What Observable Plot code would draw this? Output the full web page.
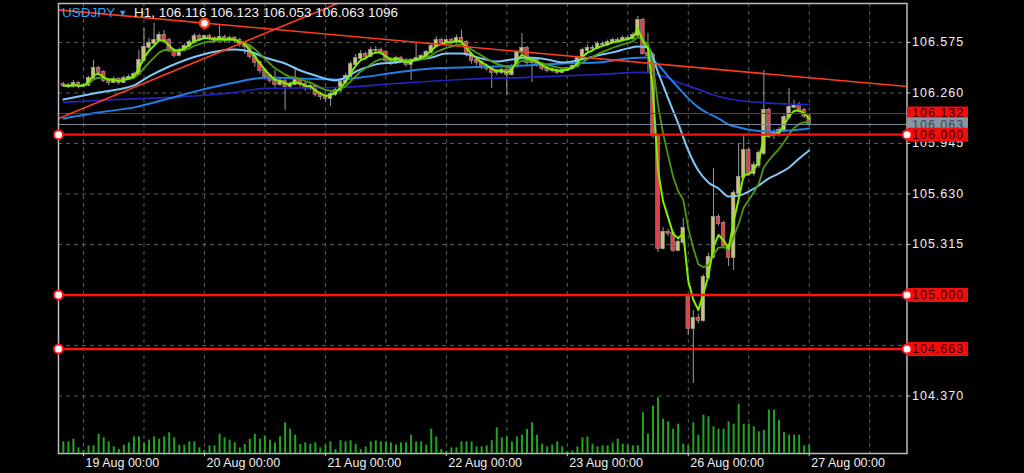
<!DOCTYPE html>
<html>
<head>
<meta charset="utf-8">
<script src="https://cdn.jsdelivr.net/npm/d3@7"></script>
<script src="https://cdn.jsdelivr.net/npm/@observablehq/plot@0.6"></script>
<style>
  html, body { margin: 0; padding: 0; background: #000; }
  #wrap { position: relative; width: 1024px; height: 473px; overflow: hidden; background: #000; }
  #wrap svg { position: absolute; left: 0; top: 0; }
  #title { position: absolute; left: 62px; top: 5px; font: 13.5px "Liberation Sans", Arial, sans-serif; line-height: 16px; color: #f2f2f2; white-space: nowrap; }
  #title .sym { color: #33a2f5; }
  #title .tri { color: #33a2f5; font-size: 9px; position: relative; top: -1px; margin: 0 3px 0 3px; }
</style>
</head>
<body>
<div id="wrap">
  <div id="title"><span class="sym">USDJPY</span><span class="tri">▼</span> H1, 106.116 106.123 106.053 106.063 1096</div>
</div>
<script>
// ---------- DATA ----------
// hourly bar index: 0 = 19 Aug 00:00, weekend skipped (26 Aug 00:00 = 120, 27 Aug 00:00 = 144)
const firstBar = -4;
const open = [
  106.313,106.307,106.300,106.319,106.300,106.307,106.350,106.413,106.388,106.338,
  106.325,106.344,106.325,106.350,106.357,106.375,106.463,106.544,106.569,106.587,
  106.619,106.587,106.525,106.494,106.525,106.550,106.575,106.612,106.600,106.612,
  106.600,106.587,106.606,106.587,106.600,106.587,106.563,106.550,106.488,106.450,
  106.400,106.363,106.338,106.313,106.332,106.300,106.313,106.338,106.313,106.288,
  106.300,106.251,106.238,106.226,106.251,106.276,106.325,106.363,106.438,106.475,
  106.500,106.488,106.525,106.525,106.513,106.463,106.450,106.475,106.463,106.438,
  106.463,106.475,106.488,106.513,106.550,106.587,106.575,106.587,106.575,106.600,
  106.575,106.500,106.463,106.450,106.425,106.413,106.388,106.388,106.400,106.375,
  106.425,106.513,106.538,106.450,106.463,106.438,106.413,106.400,106.400,106.388,
  106.400,106.413,106.425,106.475,106.525,106.538,106.538,106.563,106.563,106.575,
  106.587,106.587,106.600,106.600,106.619,106.712,106.506,106.494,105.995,105.290,
  105.390,105.384,105.277,105.328,104.984,104.791,104.853,104.841,105.109,105.234,
  105.483,105.446,105.309,105.234,105.633,105.733,105.901,105.758,105.808,105.883,
  106.151,105.995,106.007,106.026,106.107,106.170,106.182,106.151,106.116
];
const high = [
  106.325,106.320,106.338,106.330,106.318,106.363,106.463,106.425,106.398,106.350,
  106.360,106.355,106.365,106.375,106.390,106.525,106.663,106.600,106.694,106.640,
  106.650,106.600,106.535,106.540,106.565,106.590,106.630,106.625,106.620,106.625,
  106.610,106.681,106.620,106.615,106.612,106.600,106.575,106.560,106.500,106.460,
  106.410,106.375,106.400,106.350,106.345,106.330,106.420,106.350,106.325,106.320,
  106.310,106.265,106.250,106.265,106.290,106.340,106.380,106.455,106.500,106.525,
  106.515,106.545,106.550,106.540,106.525,106.480,106.490,106.488,106.475,106.475,
  106.569,106.500,106.525,106.565,106.610,106.600,106.595,106.600,106.620,106.650,
  106.585,106.510,106.475,106.460,106.440,106.425,106.405,106.415,106.410,106.440,
  106.525,106.631,106.550,106.480,106.475,106.450,106.425,106.415,106.410,106.412,
  106.420,106.435,106.490,106.540,106.560,106.555,106.580,106.580,106.590,106.600,
  106.605,106.615,106.615,106.635,106.737,106.725,106.631,106.510,106.000,105.420,
  105.410,105.395,105.345,105.478,104.997,104.903,104.880,105.125,105.260,105.789,
  105.500,105.460,105.320,105.650,105.945,105.995,105.915,105.830,105.900,106.400,
  106.165,106.030,106.045,106.125,106.288,106.215,106.200,106.165,106.123
];
const low = [
  106.295,106.288,106.290,106.285,106.293,106.300,106.345,106.375,106.325,106.305,
  106.318,106.310,106.318,106.340,106.350,106.370,106.455,106.530,106.560,106.580,
  106.575,106.510,106.480,106.485,106.515,106.540,106.565,106.590,106.595,106.585,
  106.570,106.575,106.570,106.575,106.570,106.545,106.500,106.470,106.420,106.380,
  106.340,106.320,106.290,106.300,106.151,106.285,106.305,106.295,106.270,106.275,
  106.235,106.215,106.205,106.176,106.240,106.265,106.315,106.355,106.430,106.465,
  106.475,106.480,106.505,106.495,106.445,106.430,106.440,106.445,106.420,106.338,
  106.455,106.465,106.480,106.505,106.540,106.560,106.570,106.560,106.565,106.560,
  106.485,106.440,106.430,106.405,106.395,106.288,106.370,106.375,106.244,106.365,
  106.415,106.500,106.430,106.325,106.420,106.395,106.385,106.385,106.375,106.380,
  106.395,106.405,106.415,106.465,106.515,106.520,106.530,106.545,106.550,106.565,
  106.570,106.575,106.585,106.590,106.610,106.495,106.388,105.976,105.265,105.280,
  105.365,105.265,105.270,105.320,104.748,104.448,104.820,104.830,105.100,105.225,
  105.430,105.290,105.178,105.153,105.620,105.720,105.740,105.740,105.790,105.870,
  105.975,105.970,105.985,106.010,106.095,106.160,106.135,106.100,106.053
];
const close = [
  106.307,106.300,106.319,106.300,106.307,106.350,106.413,106.388,106.338,106.325,
  106.344,106.325,106.350,106.357,106.375,106.463,106.544,106.569,106.587,106.619,
  106.587,106.525,106.494,106.525,106.550,106.575,106.612,106.600,106.612,106.600,
  106.587,106.606,106.587,106.600,106.587,106.563,106.550,106.488,106.450,106.400,
  106.363,106.338,106.313,106.332,106.300,106.313,106.338,106.313,106.288,106.300,
  106.251,106.238,106.226,106.251,106.276,106.325,106.363,106.438,106.475,106.500,
  106.488,106.525,106.525,106.513,106.463,106.450,106.475,106.463,106.438,106.463,
  106.475,106.488,106.513,106.550,106.587,106.575,106.587,106.575,106.600,106.575,
  106.500,106.463,106.450,106.425,106.413,106.388,106.388,106.400,106.375,106.425,
  106.513,106.538,106.450,106.463,106.438,106.413,106.400,106.400,106.388,106.400,
  106.413,106.425,106.475,106.525,106.538,106.538,106.563,106.563,106.575,106.587,
  106.587,106.600,106.600,106.619,106.712,106.506,106.494,105.995,105.290,105.390,
  105.384,105.277,105.328,105.415,104.791,104.853,104.841,105.109,105.234,105.483,
  105.446,105.309,105.234,105.633,105.733,105.901,105.758,105.808,105.883,106.151,
  105.995,106.007,106.026,106.107,106.170,106.182,106.151,106.116,106.063
];
const volume = [
  1540,1540,1890,750,400,1020,1020,2550,2070,1540,
  880,530,1100,1410,2200,2200,1410,1760,2200,1890,
  2200,2730,2070,1100,1100,1540,1540,750,400,1020,
  1020,2550,2070,1760,1410,750,1190,1890,2550,1890,
  2280,1760,1410,2200,4050,3210,2420,1190,1410,1230,
  1410,750,1100,1540,530,1680,1540,1680,1230,530,
  880,1540,1680,1540,1540,1410,1100,1410,1410,2420,
  1540,1540,1100,3210,2200,530,260,750,750,1540,
  1540,1540,880,880,1020,1680,3390,2070,2200,1540,
  2200,2420,3170,4050,2420,1230,880,1100,1540,880,
  260,360,880,2070,2200,1230,880,1020,1020,1410,
  1890,1230,1100,1020,1020,5370,2550,6240,7350,4530,
  4180,3210,3870,1230,1060,4050,2420,5060,4840,3520,
  3210,3210,4180,3870,6510,3870,3870,3520,2860,3080,
  5720,5720,4400,2730,2420,2420,2420,1020,1096
];

// moving averages (bar index, price)
const maLightIdx = [-4,3,10,13,17,23,30,33,36,40,43,46,50,55,59,62,65,69,72,75,79,82,85,88,92,95,98,102,105,108,110,112,114,116,118,120,122,124,126,128,130,132,134,136,138,140,142,144];
const maLightVal = [106.219,106.263,106.307,106.363,106.425,106.494,106.531,106.519,106.481,106.444,106.400,106.369,106.338,106.407,106.444,106.450,106.463,106.481,106.506,106.506,106.475,106.456,106.469,106.481,106.469,106.450,106.463,106.494,106.513,106.538,106.550,106.544,106.388,106.226,106.070,105.901,105.776,105.702,105.664,105.614,105.620,105.645,105.683,105.727,105.758,105.795,105.851,105.901];
const maMidIdx = [-4,3,10,17,23,30,33,37,43,50,55,62,69,75,82,88,95,102,108,112,114,116,118,120,122,124,126,128,130,133,137,140,144];
const maMidVal = [106.101,106.138,106.170,106.226,106.276,106.325,106.344,106.357,106.350,106.344,106.357,106.388,106.413,106.419,106.425,106.432,106.444,106.450,106.475,106.481,106.438,106.363,106.294,106.226,106.170,106.132,106.101,106.063,106.045,106.026,106.020,106.026,106.039];
const maSlowIdx = [-4,3,17,30,36,50,62,75,88,102,111,114,118,122,126,130,134,138,144];
const maSlowVal = [106.201,106.213,106.232,106.263,106.288,106.294,106.319,106.344,106.357,106.375,106.388,106.375,106.325,106.282,106.238,106.213,106.201,106.194,106.188];

// drawn objects
const trendDown = [{i: -4.96, p: 106.778}, {i: 163.4, p: 106.300}];
const trendUp = [{i: -4.96, p: 106.101}, {i: 60, p: 106.942}];
const trendAnchor = [{i: 24, p: 106.695}];
const levelPrices = [106.000, 105.000, 104.663];
const askPrice = 106.132;
const bidPrice = 106.063;

// axes
const yTickValues = [106.575, 106.260, 105.945, 105.630, 105.315, 105.000, 104.685, 104.370];
const yTickShown = [106.575, 106.260, 105.945, 105.630, 105.315, 104.370]; // others sit under level labels
const gridHours = [0,12,24,36,48,60,72,84,96,108,120,132,144,156];
const xTickIdx = [0, 24, 48, 72, 96, 120, 144];
const xTickLabels = ["19 Aug 00:00","20 Aug 00:00","21 Aug 00:00","22 Aug 00:00","23 Aug 00:00","26 Aug 00:00","27 Aug 00:00"];

// ---------- BUILD ----------
const xDomain = [-4.96, 163.4];
const yDomain = [104.011, 106.818];
const candles = close.map((c, k) => ({i: firstBar + k, o: open[k], h: high[k], l: low[k], c, v: volume[k]}));
const maLight = maLightIdx.map((i, k) => ({i, p: maLightVal[k]}));
const maMid = maMidIdx.map((i, k) => ({i, p: maMidVal[k]}));
const maSlow = maSlowIdx.map((i, k) => ({i, p: maSlowVal[k]}));
const xTicks = xTickIdx.map((i, k) => ({i, label: xTickLabels[k]}));
const levelDots = levelPrices.flatMap(p => [{i: xDomain[0], p}, {i: xDomain[1], p}]);
const priceLabels = [
  {p: askPrice, text: askPrice.toFixed(3), box: "#f20d0d", ink: "#3a0000"},
  {p: bidPrice, text: bidPrice.toFixed(3), box: "#8796a5", ink: "#3c4650"},
  ...levelPrices.map(p => ({p, text: p.toFixed(3), box: "#f20d0d", ink: "#3a0000"}))
];

const ewm = (alpha) => (values) => {
  let w = 1, s = 0, ws = 0;
  for (let j = values.length - 1; j >= 0; --j) { s += w * values[j]; ws += w; w *= 1 - alpha; }
  return s / ws;
};

const FONT = "'Liberation Sans', Arial, sans-serif";
const BULL = "#cdc27a", BEAR = "#e0404a", WICK = "#9b9b9b", GRID = "#5c5c5c";

const common = {
  width: 1024, height: 473,
  marginLeft: 58, marginRight: 117.5, marginTop: 3, marginBottom: 20,
  x: {domain: xDomain, axis: null},
  style: {background: "transparent", color: "#eee", fontFamily: FONT, fontSize: "12.5px", overflow: "visible"}
};

const pricePlot = Plot.plot({
  ...common,
  y: {domain: yDomain, axis: null},
  marks: [
    Plot.ruleY(yTickValues, {stroke: GRID, strokeDasharray: "4,4"}),
    Plot.ruleX(gridHours, {stroke: GRID, strokeDasharray: "4,4"}),
    Plot.ruleX(candles, {x: "i", y1: "l", y2: "h", stroke: WICK, strokeWidth: 1}),
    Plot.rect(candles, {
      x1: d => d.i - 0.36, x2: d => d.i + 0.36,
      y1: d => Math.min(d.o, d.c), y2: d => Math.max(d.o, d.c),
      insetTop: -0.6, insetBottom: -0.6,
      fill: d => d.c >= d.o ? BULL : BEAR, stroke: WICK, strokeWidth: 0.6
    }),
    Plot.line(maSlow, {x: "i", y: "p", stroke: "#2424bc", strokeWidth: 1.7, curve: "monotone-x"}),
    Plot.line(maMid, {x: "i", y: "p", stroke: "#1f80e8", strokeWidth: 2, curve: "monotone-x"}),
    Plot.line(maLight, {x: "i", y: "p", stroke: "#80c6f7", strokeWidth: 2, curve: "monotone-x"}),
    Plot.lineY(candles, Plot.windowY({k: 40, anchor: "end", strict: false, reduce: ewm(2 / 9)}, {x: "i", y: "c", stroke: "#4e9a0e", strokeWidth: 1.8})),
    Plot.lineY(candles, Plot.windowY({k: 20, anchor: "end", strict: false, reduce: ewm(0.5)}, {x: "i", y: "c", stroke: "#7ef000", strokeWidth: 2})),
    Plot.ruleY([bidPrice], {stroke: "#7d8c9c", strokeWidth: 1}),
    Plot.ruleY([askPrice], {stroke: "#d40f0f", strokeWidth: 1}),
    Plot.ruleY(levelPrices, {stroke: "#ff1212", strokeWidth: 2.4}),
    Plot.line(trendDown, {x: "i", y: "p", stroke: "#ff3c1e", strokeWidth: 1.6, clip: true}),
    Plot.line(trendUp, {x: "i", y: "p", stroke: "#ff3c1e", strokeWidth: 1.6, clip: true}),
    Plot.dot(trendAnchor, {x: "i", y: "p", r: 4.5, fill: "#fff", stroke: "#ff3c1e", strokeWidth: 2.5}),
    Plot.frame({stroke: "#bdbdbd", strokeWidth: 1.5}),
    Plot.ruleY(yTickValues, {x1: xDomain[1], x2: xDomain[1] + 0.75, stroke: "#cfcfcf"}),
    Plot.ruleX(xTickIdx, {y1: yDomain[0], y2: yDomain[0] - 0.02, stroke: "#cfcfcf"}),
    Plot.text(yTickShown, {y: d => d, text: d => d.toFixed(3), frameAnchor: "right", dx: 5, textAnchor: "start", fill: "#f0f0f0", fontSize: 12.5, fontFamily: FONT, ariaDescription: "ylabels"}),
    Plot.text(xTicks, {x: "i", text: "label", frameAnchor: "bottom", dy: 9, dx: 2, textAnchor: "start", lineAnchor: "middle", fill: "#f0f0f0", fontSize: 12.5, fontFamily: FONT}),
    ...priceLabels.flatMap(d => [
      Plot.ruleY([d], {y: "p", x1: xDomain[1] + 0.12, x2: xDomain[1] + 12.2, stroke: d.box, strokeWidth: 14}),
      Plot.text([d], {y: "p", text: "text", frameAnchor: "right", dx: 5, textAnchor: "start", fill: d.ink, fontSize: 12.5, fontFamily: FONT, ariaDescription: "ylabels"})
    ]),
    Plot.dot(levelDots, {x: "i", y: "p", r: 4.5, fill: "#fff", stroke: "#ff1212", strokeWidth: 2})
  ]
});

const volumePlot = Plot.plot({
  ...common,
  y: {domain: [0, 59400], axis: null},
  marks: [
    Plot.ruleX(candles, {x: "i", y1: 0, y2: "v", stroke: "#22a322", strokeWidth: 2})
  ]
});

const wrap = document.getElementById("wrap");
const title = document.getElementById("title");
wrap.insertBefore(pricePlot, title);
wrap.insertBefore(volumePlot, title);
d3.select(pricePlot).selectAll('[aria-description="ylabels"] text').attr("letter-spacing", "1px");
</script>
</body>
</html>
